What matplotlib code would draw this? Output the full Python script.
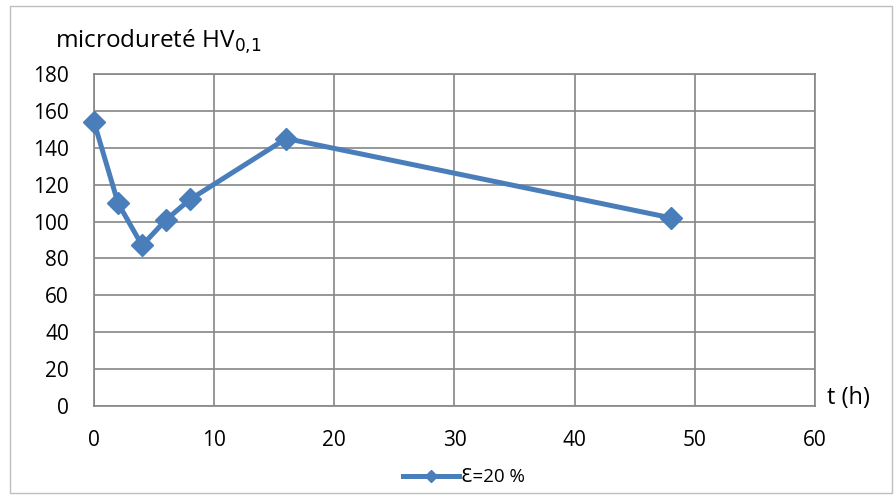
import matplotlib.pyplot as plt
from matplotlib.patches import Rectangle

plt.rcParams['font.family'] = ['Open Sans', 'DejaVu Sans']

t_hours = [0, 2, 4, 6, 8, 16, 48]
hardness = [154, 110, 87, 101, 112, 145, 102]
series_label = 'Ɛ=20 %'

fig = plt.figure(figsize=(8.96, 4.96), dpi=100)
ax = fig.add_axes([0.1049, 0.1815, 0.8047, 0.6694])

ax.plot(t_hours, hardness, color='#4a7ebb', linewidth=3.6, marker='D',
        markersize=11, markerfacecolor='#4a7ebb', markeredgecolor='#4a7ebb',
        label=series_label, clip_on=False, zorder=5)

ax.set_xlim(0, 60)
ax.set_ylim(0, 180)
ax.set_xticks(range(0, 61, 10))
ax.set_yticks(range(0, 181, 20))
ax.grid(True, color='#868686', linewidth=1.2)
ax.set_axisbelow(True)
for sp in ax.spines.values():
    sp.set_color('#868686')
    sp.set_linewidth(1.2)
ax.tick_params(length=0, labelsize=15)
ax.tick_params(axis='y', pad=18)
ax.tick_params(axis='x', pad=17)

fig.text(0.061, 0.915, 'microdureté HV$_{0{,}1}$', fontsize=17.5, va='center')
fig.text(0.923, 0.198, 't (h)', fontsize=17, va='center')

fig.legend(loc='center', bbox_to_anchor=(0.518, 0.038), frameon=False,
           fontsize=13.5, handlelength=3.0, handletextpad=0.1, markerscale=0.6)

fig.patches.append(Rectangle((0.011, 0.006), 0.985, 0.982, transform=fig.transFigure,
                             fill=False, edgecolor='#bfbfbf', linewidth=1))

fig.savefig('out.png', dpi=100)
